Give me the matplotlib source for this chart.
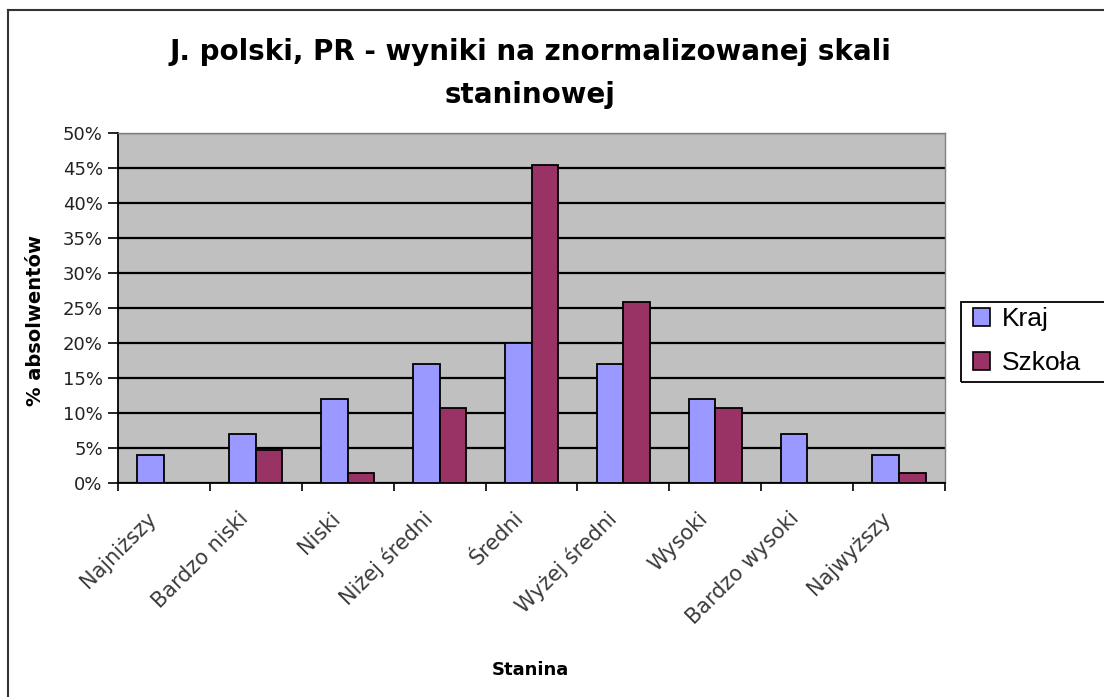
import matplotlib
matplotlib.use("Agg")
import matplotlib.pyplot as plt
import matplotlib.transforms as mtransforms
import numpy as np
from matplotlib.lines import Line2D
from matplotlib.patches import Rectangle

categories = ["Najniższy", "Bardzo niski", "Niski", "Niżej średni", "Średni",
              "Wyżej średni", "Wysoki", "Bardzo wysoki", "Najwyższy"]
kraj = [4, 7, 12, 17, 20, 17, 12, 7, 4]
szkola = [0, 4.7, 1.5, 10.7, 45.4, 25.9, 10.7, 0, 1.5]
yticks = [0, 5, 10, 15, 20, 25, 30, 35, 40, 45, 50]
ytick_labels = [f"{v}%" for v in yticks]
series_names = ["Kraj", "Szkoła"]

plt.rcParams['font.family'] = ['DejaVu Sans']

W, H = 1104, 697
fig = plt.figure(figsize=(W / 100, H / 100), dpi=100)
fig.patch.set_facecolor('white')

ax = fig.add_axes([118 / W, 1 - 483 / H, (945 - 118) / W, (483 - 133) / H])
ax.set_facecolor('#C0C0C0')

x = np.arange(len(categories))
bw = 0.29
ax.bar(x - bw / 2, kraj, bw, color='#9999FF', edgecolor='black', linewidth=1.3,
       label=series_names[0], zorder=3)
ax.bar(x + bw / 2, szkola, bw, color='#993366', edgecolor='black', linewidth=1.3,
       label=series_names[1], zorder=3)

ax.set_xlim(-0.5, len(categories) - 0.5)
ax.set_ylim(0, 50)
ax.set_yticks(yticks)
ax.set_yticklabels(ytick_labels, fontsize=13, color='#222222')
ax.yaxis.grid(True, color='black', linewidth=1.6, zorder=1)
ax.set_axisbelow(True)

ax.set_xticks(np.arange(-0.5, len(categories), 1.0))
ax.set_xticklabels([])
ax.set_xticks(x, minor=True)
ax.set_xticklabels(categories, minor=True, rotation=45, ha='right',
                   rotation_mode='anchor', fontsize=15, color='#3a3a3a')
ax.tick_params(axis='x', which='minor', length=0, pad=18)
ax.tick_params(axis='x', which='major', length=6, width=1.2, direction='out')
ax.tick_params(axis='y', length=7, width=1.2, direction='out', pad=4)
shift = mtransforms.ScaledTranslation(-18 / 100, 0, fig.dpi_scale_trans)
for lbl in ax.get_xticklabels(minor=True):
    lbl.set_transform(lbl.get_transform() + shift)

for s in ['left', 'bottom']:
    ax.spines[s].set_color('black')
    ax.spines[s].set_linewidth(1.3)
for s in ['top', 'right']:
    ax.spines[s].set_color('#808080')
    ax.spines[s].set_linewidth(1.0)

fig.text(36 / W, 1 - 320 / H, "% absolwentów", ha='center', va='center',
         rotation=90, fontsize=14, fontweight='bold')
fig.text(530 / W, 1 - 670 / H, "Stanina", ha='center', va='center',
         fontsize=13, fontweight='bold')

fig.text(530 / W, 1 - 52 / H, "J. polski, PR - wyniki na znormalizowanej skali",
         ha='center', va='center', fontsize=20, fontweight='bold')
fig.text(530 / W, 1 - 95 / H, "staninowej",
         ha='center', va='center', fontsize=20, fontweight='bold')

leg = ax.legend(loc='upper left', bbox_to_anchor=(968 / W, 1 - 302 / H),
                bbox_transform=fig.transFigure, frameon=False,
                prop={'family': 'Liberation Sans', 'size': 19},
                handlelength=0.65, handleheight=0.65,
                handletextpad=0.45, borderpad=0.2, labelspacing=0.75,
                borderaxespad=0)
for h in leg.legend_handles:
    h.set_edgecolor('black')
    h.set_linewidth(1.2)

fig.add_artist(Rectangle((961 / W, 1 - 382 / H), (1120 - 961) / W, (382 - 302) / H,
                         transform=fig.transFigure, fill=False,
                         edgecolor='black', linewidth=1.3, clip_on=False))

fig.add_artist(Line2D([8 / W, 8 / W], [0, 1 - 10 / H], transform=fig.transFigure,
                      color='#333333', linewidth=1.5))
fig.add_artist(Line2D([8 / W, 1], [1 - 10 / H, 1 - 10 / H], transform=fig.transFigure,
                      color='#333333', linewidth=1.5))

fig.savefig("out.png", dpi=100, facecolor='white')
